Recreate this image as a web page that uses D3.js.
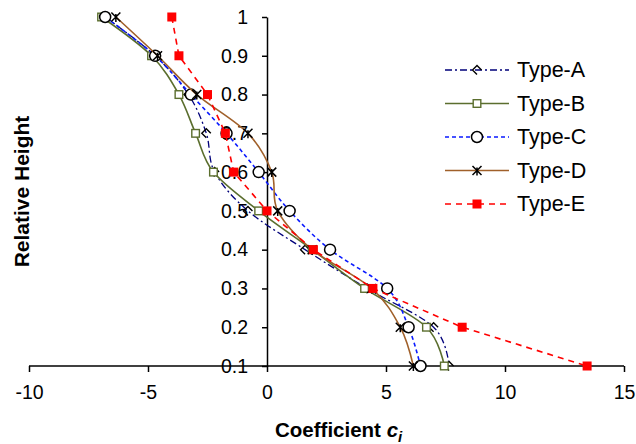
<!DOCTYPE html>
<html><head><meta charset="utf-8">
<script src="https://cdn.jsdelivr.net/npm/d3@7"></script>
<style>body{margin:0;background:#fff}svg{display:block}text{font-family:"Liberation Sans",Arial,sans-serif}</style>
</head><body><svg id="c" width="636" height="444"></svg>
<script>
const heights = [1, 0.9, 0.8, 0.7, 0.6, 0.5, 0.4, 0.3, 0.2, 0.1];
const typeA = [-6.8, -4.7, -3.3, -2.55, -2.2, -0.8, 1.6, 4.2, 7.0, 7.65];
const typeB = [-6.95, -4.85, -3.7, -3.0, -2.25, -0.35, 1.9, 4.1, 6.7, 7.45];
const typeC = [-6.8, -4.7, -3.2, -1.7, -0.35, 0.95, 2.65, 5.05, 5.95, 6.45];
const typeD = [-6.35, -4.6, -2.95, -0.8, 0.2, 0.45, 1.9, 4.4, 5.6, 6.15];
const typeE = [-4.0, -3.7, -2.5, -1.75, -1.4, 0.0, 1.95, 4.45, 8.2, 13.45];
const seriesNames = ["Type-A", "Type-B", "Type-C", "Type-D", "Type-E"];
const xTicks = [-10, -5, 0, 5, 10, 15];
const yTicks = [0.1, 0.2, 0.3, 0.4, 0.5, 0.6, 0.7, 0.8, 0.9, 1];

const svg = d3.select("#c");
const x = d3.scaleLinear().domain([-10, 15]).range([29, 624]);
const y = d3.scaleLinear().domain([0.1, 1]).range([366, 17]);

// axes
const gx = svg.append("g").attr("transform", `translate(0,${y(0.1)})`)
  .call(d3.axisBottom(x).tickValues(xTicks).tickSize(6).tickSizeOuter(0).tickPadding(13).tickFormat(d => String(d)));
const gy = svg.append("g").attr("transform", `translate(${x(0)},0)`)
  .call(d3.axisLeft(y).tickValues(yTicks).tickSize(5).tickSizeOuter(0).tickPadding(14).tickFormat(d => d === 1 ? "1" : d.toFixed(1)));
[gx, gy].forEach(g => {
  g.select(".domain").attr("stroke", "#000").attr("stroke-width", 1.5);
  g.selectAll(".tick line").attr("stroke", "#000").attr("stroke-width", 1.5);
  g.selectAll(".tick text").attr("font-size", 19.5).attr("fill", "#000")
    .style("font-family", '"Liberation Sans", Arial, sans-serif');
});
gx.select(".domain").attr("d", `M${x(-10)},0H${x(15)}`);

// titles
svg.append("text").attr("transform", `translate(29,${(y(0.1)+y(1))/2}) rotate(-90)`)
  .attr("text-anchor", "middle").attr("font-size", 21).attr("font-weight", "bold").text("Relative Height");
const xt = svg.append("text").attr("x", 275).attr("y", 437).attr("text-anchor", "start")
  .attr("font-size", 20.5).attr("font-weight", "bold");
xt.append("tspan").text("Coefficient ");
xt.append("tspan").attr("font-style", "italic").text(" c");
xt.append("tspan").attr("font-style", "italic").attr("font-size", 15).attr("dy", 5).text("i");

const styles = [
  {vals: typeA, color: "#00007a", dash: "7,3,2,3", width: 1.3, curve: true, marker: "diamond"},
  {vals: typeB, color: "#5b6e2e", dash: null, width: 1.6, curve: true, marker: "square"},
  {vals: typeC, color: "#0a1aff", dash: "4,3", width: 1.6, curve: true, marker: "circle"},
  {vals: typeD, color: "#a0602a", dash: null, width: 1.6, curve: true, marker: "star"},
  {vals: typeE, color: "#ff0000", dash: "6,5", width: 1.6, curve: false, marker: "fsquare"}
];

function drawMarker(g, type, cx, cy) {
  const m = g.append("g").attr("transform", `translate(${cx},${cy})`);
  if (type === "diamond") {
    m.append("path").attr("d", "M4.5,0L0,-4.5L-4.5,0L0,4.5").attr("fill", "none").attr("stroke", "#000").attr("stroke-width", 1.4);
  } else if (type === "square") {
    m.append("rect").attr("x", -3.8).attr("y", -3.8).attr("width", 7.6).attr("height", 7.6)
      .attr("fill", "#fff").attr("stroke", "#5b6e2e").attr("stroke-width", 1.4);
  } else if (type === "circle") {
    m.append("circle").attr("r", 5.5).attr("fill", "#fff").attr("stroke", "#000").attr("stroke-width", 1.5);
  } else if (type === "star") {
    m.append("path").attr("d", "M-4.5,-4.5L4.5,4.5M4.5,-4.5L-4.5,4.5M0,-3L0,5").attr("stroke", "#000").attr("stroke-width", 1.5);
  } else if (type === "fsquare") {
    m.append("rect").attr("x", -4.5).attr("y", -4.5).attr("width", 9).attr("height", 9).attr("fill", "#ff0000");
  }
}

styles.forEach(s => {
  const pts = heights.map((h, i) => [s.vals[i], h]);
  const line = d3.line().x(d => x(d[0])).y(d => y(d[1]))
    .curve(s.curve ? d3.curveCardinal.tension(0) : d3.curveLinear);
  svg.append("path").datum(pts).attr("d", line).attr("fill", "none")
    .attr("stroke", s.color).attr("stroke-width", s.width).attr("stroke-dasharray", s.dash);
  const g = svg.append("g");
  pts.forEach(p => drawMarker(g, s.marker, x(p[0]), y(p[1])));
});

// legend
const legY = [70, 103.5, 137, 170.5, 204];
styles.forEach((s, i) => {
  const g = svg.append("g");
  g.append("line").attr("x1", 445).attr("x2", 509).attr("y1", legY[i]).attr("y2", legY[i])
    .attr("stroke", s.color).attr("stroke-width", s.width).attr("stroke-dasharray", s.dash);
  drawMarker(g, s.marker, 477, legY[i]);
  g.append("text").attr("x", 517).attr("y", legY[i] + 7).attr("font-size", 21.5).text(seriesNames[i]);
});
</script></body></html>
